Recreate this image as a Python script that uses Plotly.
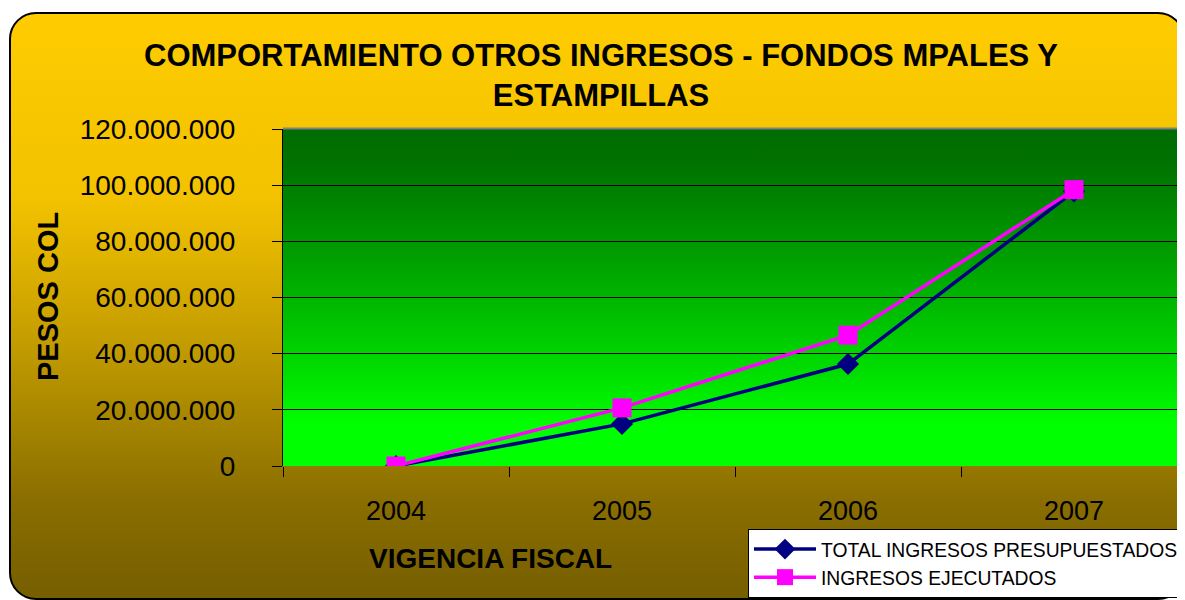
import base64
import plotly.graph_objects as go

# ---- data ----
years = ["2004", "2005", "2006", "2007"]
presupuestados = [0, 15000000, 36300000, 97800000]
ejecutados = [0, 20700000, 46600000, 98400000]
y_ticks = [0, 20000000, 40000000, 60000000, 80000000, 100000000, 120000000]

# ---- geometry ----
# the page has a default 8px body margin, so work in page pixels and shift
OFF = 8
W, H = 1185, 600
PL, PT, PR, PB = 283, 129, 1187, 466          # plot area in page pixels
L = PL - OFF
T = PT - OFF
R = (W + OFF) - PR
B = (H + OFF) - PB
PW, PH = W - L - R, H - T - B


def px(x):
    return (x - OFF - L) / PW


def py(y):
    return (H - B - (y - OFF)) / PH


svg = f"""<svg xmlns='http://www.w3.org/2000/svg' width='{W}' height='{H}' viewBox='0 0 {W} {H}' preserveAspectRatio='none'>
<defs>
<linearGradient id='bg' x1='0' y1='0' x2='0' y2='1'>
<stop offset='0' stop-color='#FFCC00'/>
<stop offset='0.32' stop-color='#F2C200'/>
<stop offset='0.49' stop-color='#D2A800'/>
<stop offset='0.66' stop-color='#AE8C00'/>
<stop offset='0.83' stop-color='#8A6E00'/>
<stop offset='1' stop-color='#765E00'/>
</linearGradient>
<linearGradient id='gr' x1='0' y1='0' x2='0' y2='1'>
<stop offset='0' stop-color='#006C00'/>
<stop offset='0.1' stop-color='#007200'/>
<stop offset='0.25' stop-color='#008A00'/>
<stop offset='0.41' stop-color='#00A400'/>
<stop offset='0.58' stop-color='#00C400'/>
<stop offset='0.75' stop-color='#00E400'/>
<stop offset='0.88' stop-color='#00FF00'/>
<stop offset='1' stop-color='#00FF00'/>
</linearGradient>
</defs>
<g transform='translate({-OFF},{-OFF})'>
<rect x='10' y='13' width='1174' height='586' rx='26' ry='26' fill='url(#bg)' stroke='black' stroke-width='2'/>
<rect x='{PL}' y='{PT}' width='{PR - PL + 10}' height='{PB - PT}' fill='url(#gr)'/>
<line x1='{PL}' y1='{PT - 0.5}' x2='{W + OFF}' y2='{PT - 0.5}' stroke='#808080' stroke-width='2'/>
</g>
</svg>"""
src = "data:image/svg+xml;base64," + base64.b64encode(svg.encode()).decode()

fig = go.Figure()
fig.add_trace(go.Scatter(
    x=years, y=presupuestados, mode="lines+markers",
    name="TOTAL INGRESOS PRESUPUESTADOS",
    line=dict(color="#000080", width=3.5),
    marker=dict(symbol="diamond", size=17, color="#000080"),
))
fig.add_trace(go.Scatter(
    x=years, y=ejecutados, mode="lines+markers",
    name="INGRESOS EJECUTADOS",
    line=dict(color="#FF00FF", width=3.5),
    marker=dict(symbol="square", size=19, color="#FF00FF"),
))

font_family = "Liberation Sans, Arial, sans-serif"

fig.update_layout(
    width=W, height=H,
    margin=dict(l=L, r=R, t=T, b=B, pad=0),
    paper_bgcolor="white",
    plot_bgcolor="rgba(0,0,0,0)",
    separators=",.",
    font=dict(family=font_family, color="black"),
    showlegend=True,
    legend=dict(
        x=px(748), y=py(529), xanchor="left", yanchor="top",
        bgcolor="white", bordercolor="black", borderwidth=1,
        font=dict(size=19.3, family=font_family, color="black"),
        itemwidth=62, tracegroupgap=0,
    ),
    images=[dict(
        source=src, xref="paper", yref="paper",
        x=-L / PW, y=(H - B) / PH, sizex=W / PW, sizey=H / PH,
        xanchor="left", yanchor="top", sizing="stretch", layer="below",
    )],
    xaxis=dict(
        type="category", range=[-0.5, 3.5],
        tickson="boundaries", ticks="outside", ticklen=10, tickcolor="black",
        tickfont=dict(size=27, color="black"),
        ticklabelstandoff=26,
        showgrid=False, zeroline=False, showline=False,
    ),
    yaxis=dict(
        range=[0, 120000000], tickvals=y_ticks, tickformat=",.0f",
        ticks="outside", ticklen=10, tickcolor="black",
        tickfont=dict(size=28, color="black"),
        ticklabelstandoff=31,
        showgrid=True, gridcolor="black", gridwidth=1,
        zeroline=False, showline=True, linecolor="black", linewidth=1,
    ),
    annotations=[
        dict(
            text="COMPORTAMIENTO OTROS INGRESOS - FONDOS MPALES Y<br>ESTAMPILLAS",
            xref="paper", yref="paper", x=px(601), y=py(75),
            xanchor="center", yanchor="middle", showarrow=False,
            font=dict(size=31, family=font_family, color="black", weight="bold"),
            align="center",
        ),
        dict(
            text="PESOS COL", textangle=-90,
            xref="paper", yref="paper", x=px(48), y=py(297),
            xanchor="center", yanchor="middle", showarrow=False,
            font=dict(size=29, family=font_family, color="black", weight="bold"),
        ),
        dict(
            text="VIGENCIA FISCAL",
            xref="paper", yref="paper", x=px(490), y=py(558),
            xanchor="center", yanchor="middle", showarrow=False,
            font=dict(size=28, family=font_family, color="black", weight="bold"),
        ),
    ],
)

fig.write_html("out.html")
